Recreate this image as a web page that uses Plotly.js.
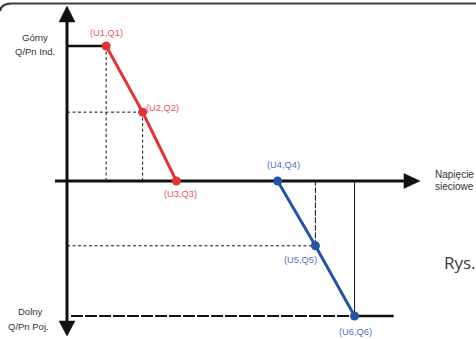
<!DOCTYPE html>
<html>
<head>
<meta charset="utf-8">
<script src="https://cdn.plot.ly/plotly-3.0.1.min.js"></script>
<style>html,body{margin:0;padding:0;background:#fff;}#chart{width:476px;height:339px;}</style>
</head>
<body>
<div id="chart"></div>
<script>
// Data (logical units: origin at axis crossing, Q normalised to the limits ±1)
const pointLabels = ["(U1,Q1)", "(U2,Q2)", "(U3,Q3)", "(U4,Q4)", "(U5,Q5)", "(U6,Q6)"];
const inductiveU = [0.29, 0.56, 0.81];
const inductiveQ = [1, 0.51, 0];
const capacitiveU = [1.56, 1.84, 2.13];
const capacitiveQ = [0, -0.48, -1];
const upperLimitLabel = ["Górny", "Q/Pn Ind."];
const lowerLimitLabel = ["Dolny", "Q/Pn Poj."];
const xAxisLabel = ["Napięcie", "sieciowe"];
const figureLabel = "Rys.";

const RED = "#e53232", RED_T = "#e8565c";
const BLUE = "#2355a6", BLUE_T = "#4a74b9";
const BLACK = "#111";

const U = inductiveU.concat(capacitiveU);
const Q = inductiveQ.concat(capacitiveQ);

// layout extents (logical units)
const xr = [-0.4963, 3.0296], yr = [-1.1704, 1.3407];
const axTop = 1.178, axBot = -1.037, tipTop = 1.296, tipBot = -1.148;
const axLeft = -0.089, axRight = 2.496, tipRight = 2.615;
const hw = 0.059, hh = 0.055;
const limitEnd = 2.42;

const shapes = [];
function line(x0, y0, x1, y1, color, width, dash) {
  shapes.push({type: "line", xref: "x", yref: "y", x0, y0, x1, y1,
    line: {color, width, dash: dash || "solid"}, layer: "below"});
}
// guide lines
line(U[0], Q[0], U[0], 0, BLACK, 1, "3px,2.5px");
line(0, Q[1], U[1], Q[1], BLACK, 1, "3px,2.5px");
line(U[1], Q[1], U[1], 0, BLACK, 1, "3px,2.5px");
line(0, Q[4], U[4], Q[4], BLACK, 1, "3px,2.5px");
line(U[4], Q[4], U[4], 0, BLACK, 1, "6px,1.5px");
line(U[5], Q[5], U[5], 0, BLACK, 1);
// limit lines
line(0, Q[0], U[0], Q[0], BLACK, 2.5);
line(0.03, Q[5], U[5], Q[5], BLACK, 2, "12px,2px");
line(U[5], Q[5], limitEnd, Q[5], BLACK, 2.5);
// axes
line(0, axTop, 0, axBot, BLACK, 3);
line(axLeft, 0, axRight, 0, BLACK, 3);
function tri(pts) {
  shapes.push({type: "path", xref: "x", yref: "y",
    path: "M " + pts.map(p => p[0] + "," + p[1]).join(" L ") + " Z",
    fillcolor: BLACK, line: {color: BLACK, width: 0.5}});
}
tri([[0, tipTop], [-hw, axTop], [hw, axTop]]);
tri([[0, tipBot], [-hw, axBot], [hw, axBot]]);
tri([[tipRight, 0], [axRight, hh], [axRight, -hh]]);
// frame (rounded corner, paper coords)
const W = 476, H = 339;
const P = (x, y) => (x / W) + "," + (1 - y / H);
shapes.push({type: "path", xref: "paper", yref: "paper",
  path: "M " + P(0, 11) + " Q " + P(1, 3.5) + " " + P(12, 3.5) + " L " + P(476, 3.5),
  line: {color: "#3c3c3c", width: 2.2}});

const traces = [
  {x: inductiveU, y: inductiveQ, mode: "lines+markers", line: {color: RED, width: 3},
   marker: {color: RED, size: 9}, hoverinfo: "skip", cliponaxis: false},
  {x: capacitiveU, y: capacitiveQ, mode: "lines+markers", line: {color: BLUE, width: 3},
   marker: {color: BLUE, size: 9}, hoverinfo: "skip", cliponaxis: false}
];

const FONT = "Arial, 'Liberation Sans', sans-serif";
const shifts = [[0, 13], [20, 4], [4, -13], [6, 16], [-15, -14], [1, -16]];
const annotations = pointLabels.map((t, i) => ({
  x: U[i], y: Q[i], xref: "x", yref: "y", text: t, showarrow: false,
  xshift: shifts[i][0], yshift: shifts[i][1],
  font: {family: FONT, size: 9.3, color: i < 3 ? RED_T : BLUE_T}
}));
function txt(text, px, py, size, color, anchor, family) {
  annotations.push({xref: "paper", yref: "paper", x: px / W, y: 1 - py / H, text,
    showarrow: false, xanchor: anchor || "center", yanchor: "middle",
    font: {family: family || FONT, size, color}});
}
txt(upperLimitLabel[0], 35, 37.5, 9.5, "#333");
txt(upperLimitLabel[1], 34.5, 52, 9.5, "#333");
txt(lowerLimitLabel[0], 30, 311, 9.5, "#333");
txt(lowerLimitLabel[1], 28, 326.5, 9.5, "#333");
txt(xAxisLabel[0], 433, 174.5, 10, "#333", "left");
txt(xAxisLabel[1], 433, 186.5, 10, "#333", "left");
txt(figureLabel, 442, 262, 17, "#3a3a3a", "left", "'Open Sans', sans-serif");

const layout = {
  width: W, height: H, margin: {l: 0, r: 0, t: 0, b: 0},
  paper_bgcolor: "#fff", plot_bgcolor: "#fff", showlegend: false,
  xaxis: {range: xr, visible: false, fixedrange: true},
  yaxis: {range: yr, visible: false, fixedrange: true},
  shapes, annotations
};
Plotly.newPlot("chart", traces, layout, {staticPlot: true, displayModeBar: false});
</script>
</body>
</html>
